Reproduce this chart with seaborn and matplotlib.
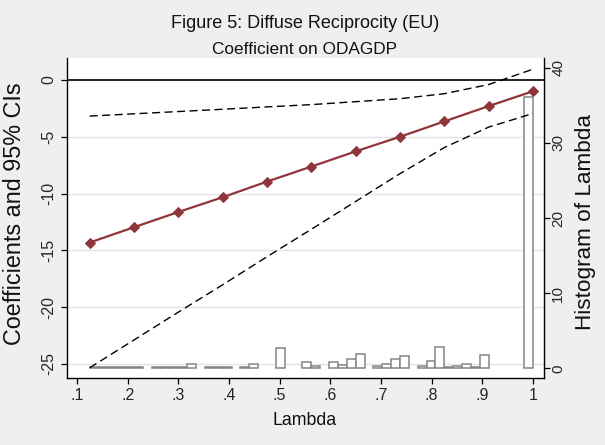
import numpy as np
import pandas as pd
import matplotlib
matplotlib.use("Agg")
import matplotlib.pyplot as plt
import seaborn as sns

# ---------------- data ----------------
lam = [0.125, 0.2125, 0.3, 0.3875, 0.475, 0.5625, 0.65, 0.7375, 0.825, 0.9125, 1.0]
coef = [-14.32, -12.97, -11.63, -10.33, -8.95, -7.63, -6.29, -5.00, -3.65, -2.30, -0.99]
ci_upper = [-3.18, -2.98, -2.78, -2.58, -2.37, -2.17, -1.91, -1.65, -1.21, -0.40, 0.95]
ci_lower = [-25.35, -22.90, -20.45, -18.04, -15.57, -13.15, -10.70, -8.25, -5.95, -4.15, -2.95]

hist_lo, hist_hi, hist_nbins = 0.125, 1.0, 50
hist_heights = [0.13, 0.13, 0.13, 0.13, 0.13, 0.13, 0.0, 0.13, 0.13, 0.13,
                0.13, 0.55, 0.0, 0.13, 0.13, 0.13, 0.0, 0.13, 0.55, 0.0,
                0.0, 2.67, 0.0, 0.0, 0.87, 0.30, 0.0, 0.80, 0.43, 1.30,
                1.84, 0.0, 0.35, 0.57, 1.20, 1.70, 0.0, 0.35, 0.93, 2.88,
                0.23, 0.35, 0.53, 0.23, 1.80, 0.0, 0.0, 0.0, 0.0, 36.1]

x_ticks = [.1, .2, .3, .4, .5, .6, .7, .8, .9, 1.0]
x_ticklabels = [".1", ".2", ".3", ".4", ".5", ".6", ".7", ".8", ".9", "1"]
yl_ticks = [0, -5, -10, -15, -20, -25]
yl_ticklabels = ["0", "-5", "-10", "-15", "-20", "-25"]
yr_ticks = [0, 10, 20, 30, 40]
yr_ticklabels = ["0", "10", "20", "30", "40"]

title = "Figure 5: Diffuse Reciprocity (EU)"
subtitle = "Coefficient on ODAGDP"
xlabel = "Lambda"
ylabel_left = "Coefficients and 95% CIs"
ylabel_right = "Histogram of Lambda"

# ---------------- style ----------------
sns.set_style("ticks")
plt.rcParams["font.family"] = ["Liberation Sans", "DejaVu Sans"]
plt.rcParams["axes.unicode_minus"] = False

BG = "#EFEFEF"
RED = "#90353B"

W, H = 605, 445
fig = plt.figure(figsize=(W / 100, H / 100), dpi=100, facecolor=BG)
L, R, T, B = 67, 544, 57.5, 378
ax2 = fig.add_axes([L / W, 1 - B / H, (R - L) / W, (B - T) / H])
ax = ax2.twinx()
# ax2 -> histogram (right axis), ax -> coefficients (left axis)
ax.yaxis.tick_left()
ax.yaxis.set_label_position("left")
ax2.yaxis.tick_right()
ax2.yaxis.set_label_position("right")

ylim_l = (-26.25, 1.98)
ylim_r = (-1.29, 41.37)
xlim = (0.0803, 1.0217)

# histogram (behind)
width = (hist_hi - hist_lo) / hist_nbins
centers = [hist_lo + width * (i + 0.5) for i in range(hist_nbins)]
hdf = pd.DataFrame({"lam": centers, "h": hist_heights})
sns.histplot(data=hdf, x="lam", weights="h", bins=hist_nbins,
             binrange=(hist_lo, hist_hi), ax=ax2,
             stat="count", fill=True, color="white", alpha=1,
             edgecolor="#858585", linewidth=1.1, zorder=3)
for p in ax2.patches:
    if p.get_height() == 0:
        p.set_visible(False)

ax2.set_facecolor("white")
ax.patch.set_visible(False)

# horizontal grid lines at left-axis ticks, placed on the histogram axes (under bars)
for v in yl_ticks[1:]:
    frac = (v - ylim_l[0]) / (ylim_l[1] - ylim_l[0])
    ax2.axhline(ylim_r[0] + frac * (ylim_r[1] - ylim_r[0]), color="#E3E3E3", lw=1.0, zorder=1)

# coefficient lines
df = pd.DataFrame({"lam": lam, "coef": coef, "up": ci_upper, "lo": ci_lower})
ax.axhline(0, color="#222222", lw=1.4, zorder=2)
sns.lineplot(data=df, x="lam", y="up", ax=ax, color="black", lw=1.0,
             linestyle=(0, (5.8, 3.2)), zorder=4)
sns.lineplot(data=df, x="lam", y="lo", ax=ax, color="black", lw=1.0,
             linestyle=(0, (5.8, 3.2)), zorder=4)
sns.lineplot(data=df, x="lam", y="coef", ax=ax, color=RED, lw=1.6,
             marker="D", markersize=4.6, markeredgecolor=RED, markerfacecolor=RED, zorder=5)

ax.set_xlim(*xlim)
ax.set_ylim(*ylim_l)
ax2.set_xlim(*xlim)
ax2.set_ylim(*ylim_r)

ax.set_xticks(x_ticks)
ax.set_xticklabels(x_ticklabels)
ax2.set_xticks(x_ticks)
ax2.set_xticklabels(x_ticklabels)
ax.set_yticks(yl_ticks)
ax.set_yticklabels(yl_ticklabels, rotation=90, va="center")
ax2.set_yticks(yr_ticks)
ax2.set_yticklabels(yr_ticklabels, rotation=90, va="center")

for a in (ax, ax2):
    a.set_xlabel("")
    a.set_ylabel("")
    a.grid(False)
    for s in a.spines.values():
        s.set_visible(False)

ax2.spines["bottom"].set_visible(True)
ax2.spines["right"].set_visible(True)
ax.spines["left"].set_visible(True)
for s in (ax2.spines["bottom"], ax2.spines["right"], ax.spines["left"]):
    s.set_color("black")
    s.set_linewidth(1.0)

ax.tick_params(axis="y", which="both", direction="out", length=4.5, width=0.9,
               color="black", labelsize=11.5, pad=3, left=True, right=False,
               labelleft=True, labelright=False)
ax.tick_params(axis="x", bottom=False, top=False, labelbottom=False)
ax2.tick_params(axis="y", direction="out", length=4.0, width=0.9, color="black",
                labelsize=11, pad=1.2, right=True, left=False,
                labelright=True, labelleft=False)
ax2.tick_params(axis="x", direction="out", length=4.5, width=0.9, color="black",
                labelsize=11.5, pad=3, bottom=True, labelbottom=True)

# titles and axis labels
fig.text(305 / W, 1 - 28 / H, title, ha="center", va="baseline", fontsize=13, color="#111111")
fig.text(305 / W, 1 - 54 / H, subtitle, ha="center", va="baseline", fontsize=12.4, color="#111111")
fig.text(304.5 / W, 1 - 425 / H, xlabel, ha="center", va="baseline", fontsize=12.8, color="#111111")
fig.text(15 / W, 1 - 214 / H, ylabel_left, ha="center", va="center", rotation=90, fontsize=16.8, color="#111111")
fig.text(585 / W, 1 - 222.5 / H, ylabel_right, ha="center", va="center", rotation=90, fontsize=16.2, color="#111111")

fig.savefig("out.png", dpi=100, facecolor=BG)
